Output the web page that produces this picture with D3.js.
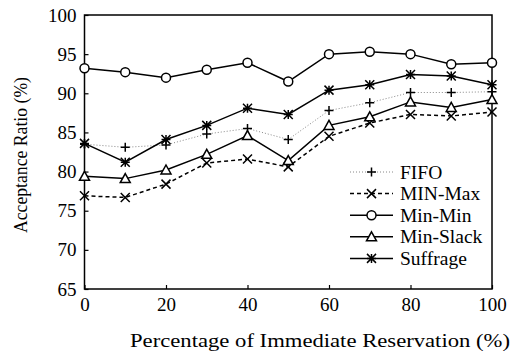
<!DOCTYPE html>
<html>
<head><meta charset="UTF-8"></head>
<body style="margin:0">
  <svg width="523" height="352"></svg>
  <script src="https://d3js.org/d3.v7.min.js"></script>
  <script>
    // data
    let xs = [0, 10, 20, 30, 40, 50, 60, 70, 80, 90, 100];
    let fifo     = [83.5, 83.1, 83.4, 84.8, 85.5, 84.1, 87.8, 88.8, 90.1, 90.1, 90.2];
    let minMax   = [76.9, 76.7, 78.4, 81.1, 81.6, 80.6, 84.5, 86.2, 87.3, 87.1, 87.6];
    let minMin   = [93.2, 92.7, 92.0, 93.0, 93.9, 91.5, 95.0, 95.3, 95.0, 93.7, 93.9];
    let minSlack = [79.4, 79.1, 80.2, 82.2, 84.6, 81.4, 85.9, 87.0, 88.9, 88.2, 89.2];
    let suffrage = [83.6, 81.2, 84.1, 85.9, 88.1, 87.3, 90.4, 91.1, 92.4, 92.2, 91.1];
    let seriesNames = ["FIFO", "MIN-Max", "Min-Min", "Min-Slack", "Suffrage"];
    let xTicks = [0, 20, 40, 60, 80, 100];
    let yTicks = [65, 70, 75, 80, 85, 90, 95, 100];

    let series = [
      {name: seriesNames[0], values: fifo, dash: "1,2", stroke: "#888", sw: 1, marker: "plus"},
      {name: seriesNames[1], values: minMax, dash: "4,3", stroke: "#000", sw: 1.5, marker: "cross"},
      {name: seriesNames[2], values: minMin, dash: null, stroke: "#000", sw: 1.5, marker: "circle"},
      {name: seriesNames[3], values: minSlack, dash: null, stroke: "#000", sw: 1.5, marker: "triangle"},
      {name: seriesNames[4], values: suffrage, dash: null, stroke: "#000", sw: 1.5, marker: "star"}
    ];

    let fam = "Times New Roman";
    let svg = d3.select("svg");
    let pLeft = 84.5, pRight = 492, pTop = 15, pBottom = 289;
    let x = d3.scaleLinear().domain([0, 100]).range([pLeft, pRight]);
    let y = d3.scaleLinear().domain([65, 100]).range([pBottom, pTop]);

    // frame
    svg.append("rect")
      .attr("x", pLeft).attr("y", pTop)
      .attr("width", pRight - pLeft).attr("height", pBottom - pTop)
      .attr("fill", "none").attr("stroke", "#000").attr("stroke-width", 1.5);

    // axes, ticks pointing inward
    let xAxis = svg.append("g").attr("transform", "translate(0," + pBottom + ")")
      .call(d3.axisBottom(x).tickValues(xTicks).tickSize(-4).tickPadding(9));
    let yAxis = svg.append("g").attr("transform", "translate(" + pLeft + ",0)")
      .call(d3.axisLeft(y).tickValues(yTicks).tickSize(-4).tickPadding(8));
    xAxis.select(".domain").remove();
    yAxis.select(".domain").remove();
    xAxis.attr("font-family", fam).attr("font-size", 19);
    yAxis.attr("font-family", fam).attr("font-size", 19);
    svg.selectAll(".tick line").attr("stroke-width", 1.2);

    // axis titles
    svg.append("text")
      .attr("x", 320).attr("y", 347)
      .attr("text-anchor", "middle")
      .attr("textLength", 380).attr("lengthAdjust", "spacingAndGlyphs")
      .attr("font-family", fam).attr("font-size", 19)
      .text("Percentage of Immediate Reservation (%)");
    svg.append("text")
      .attr("transform", "translate(27,155) rotate(-90)")
      .attr("text-anchor", "middle")
      .attr("textLength", 156).attr("lengthAdjust", "spacingAndGlyphs")
      .attr("font-family", fam).attr("font-size", 19)
      .text("Acceptance Ratio (%)");

    function drawMarker(g, type, cx, cy) {
      let s = 4.5;
      if (type == "circle") {
        g.append("circle").attr("cx", cx).attr("cy", cy).attr("r", 4.5)
          .attr("fill", "#fff").attr("stroke", "#000").attr("stroke-width", 1.5);
      } else if (type == "triangle") {
        g.append("path")
          .attr("d", `M${cx},${cy - 5}L${cx + 5},${cy + 4}L${cx - 5},${cy + 4}Z`)
          .attr("fill", "#fff").attr("stroke", "#000").attr("stroke-width", 1.5);
      } else {
        let d = "";
        if (type == "plus" || type == "star") d += `M${cx - s},${cy}H${cx + s}M${cx},${cy - s}V${cy + s}`;
        if (type == "cross" || type == "star") d += `M${cx - s},${cy - s}L${cx + s},${cy + s}M${cx - s},${cy + s}L${cx + s},${cy - s}`;
        g.append("path").attr("d", d).attr("fill", "none")
          .attr("stroke", "#000").attr("stroke-width", 1.5);
      }
    }

    let line = d3.line().x((d, i) => x(xs[i])).y(d => y(d));
    series.forEach(s => {
      let g = svg.append("g");
      g.append("path")
        .attr("d", line(s.values))
        .attr("fill", "none")
        .attr("stroke", s.stroke)
        .attr("stroke-width", s.sw)
        .attr("stroke-dasharray", s.dash);
      s.values.forEach((v, i) => drawMarker(g, s.marker, x(xs[i]), y(v)));
    });

    // legend
    let legend = svg.append("g");
    series.forEach((s, i) => {
      let ly = 172 + i * 21.6;
      legend.append("line")
        .attr("x1", 350).attr("x2", 393).attr("y1", ly).attr("y2", ly)
        .attr("stroke", s.stroke).attr("stroke-width", s.sw)
        .attr("stroke-dasharray", s.dash);
      drawMarker(legend, s.marker, 371.5, ly);
      legend.append("text")
        .attr("x", 400).attr("y", ly + 6.5)
        .attr("font-family", fam).attr("font-size", 19.5)
        .text(s.name);
    });
  </script>
</body>
</html>
